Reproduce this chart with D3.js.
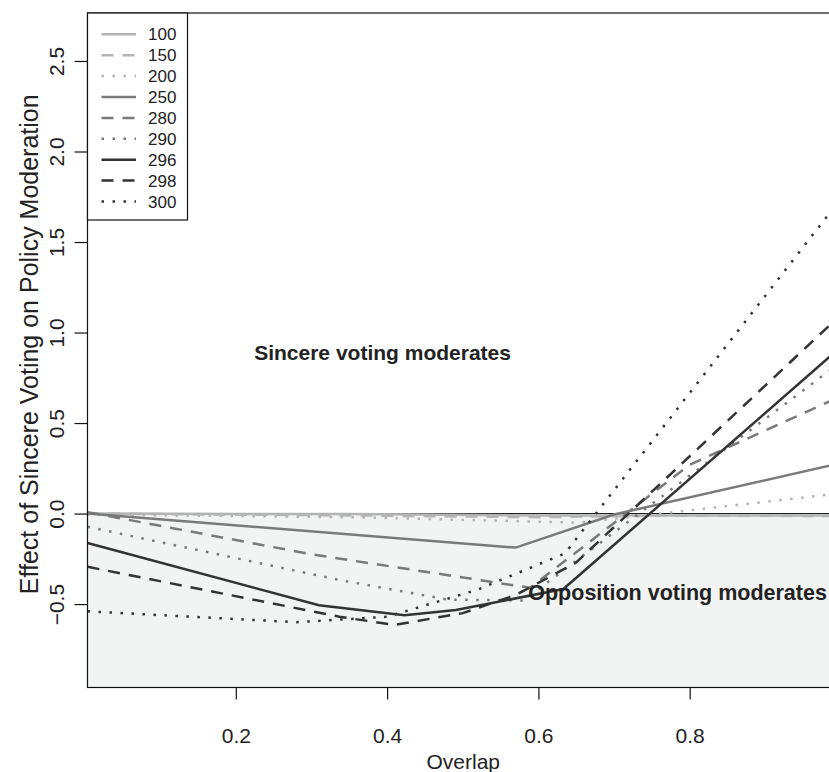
<html> <head>
<meta charset="utf-8">
<script src="https://d3js.org/d3.v7.min.js"></script>
<style>
  body { margin: 0; background: #fff; }
  text { font-family: "Liberation Sans", Arial, Helvetica, sans-serif; fill: #222; }
</style>
</head>
<body>
  <div id="chart"></div>
<script>

// data: [overlap, effect] per series
const line100 = [[0.004, 0.0], [0.35, -0.003], [0.60, -0.01], [0.985, -0.01]];
const line150 = [[0.004, 0.0], [0.35, -0.01], [0.60, -0.02], [0.75, -0.012], [0.985, -0.013]];
const line200 = [[0.004, -0.005], [0.35, -0.02], [0.655, -0.05], [0.985, 0.105]];
const line250 = [[0.004, 0.0], [0.57, -0.188], [0.70, -0.005], [0.985, 0.265]];
const line280 = [[0.004, 0.008], [0.30, -0.225], [0.589, -0.41], [0.80, 0.27], [0.985, 0.62]];
const line290 = [[0.004, -0.073], [0.337, -0.367], [0.48, -0.475], [0.58, -0.48], [0.985, 0.79]];
const line296 = [[0.004, -0.163], [0.31, -0.506], [0.423, -0.561], [0.491, -0.533], [0.633, -0.417], [0.985, 0.866]];
const line298 = [[0.004, -0.294], [0.337, -0.57], [0.41, -0.615], [0.50, -0.55], [0.57, -0.45], [0.65, -0.27], [0.985, 1.04]];
const line300 = [[0.004, -0.54], [0.28, -0.60], [0.40, -0.57], [0.52, -0.42], [0.635, -0.22], [0.985, 1.66]];

const seriesNames = ['100', '150', '200', '250', '280', '290', '296', '298', '300'];
const seriesData = [line100, line150, line200, line250, line280, line290, line296, line298, line300];

const xTicks = [0.2, 0.4, 0.6, 0.8];
const yTicks = [-0.5, 0.0, 0.5, 1.0, 1.5, 2.0, 2.5];

// constants
const canvas = [829, 772];
const plot = {left: 87.5, top: 13, right: 845, bottom: 687.5};
const greys = ['#b4b4b4', '#7a7a7a', '#333333'];
const dashes = [null, '12,9', '2.5,8.5'];

const styleOf = i => ({color: greys[Math.floor(i / 3)], dash: dashes[i % 3]});

const svg = d3.select('#chart').append('svg')
  .attr('width', canvas[0])
  .attr('height', canvas[1]);

const scX = d3.scaleLinear().domain([0, 1]).range([84.5, 841]);
const scY = d3.scaleLinear().domain([-0.958, 2.765]).range([687, 13]);

// clip for the plot region
svg.append('clipPath').attr('id', 'clip').append('rect')
  .attr('x', plot.left).attr('y', plot.top)
  .attr('width', plot.right - plot.left).attr('height', plot.bottom - plot.top);

// shaded "opposition" region below zero
svg.append('rect')
  .attr('x', plot.left)
  .attr('y', scY(0))
  .attr('width', plot.right - plot.left)
  .attr('height', plot.bottom - scY(0))
  .style('fill', '#f2f3f3');
svg.append('line')
  .attr('x1', plot.left).attr('x2', plot.right)
  .attr('y1', scY(0)).attr('y2', scY(0))
  .style('stroke', '#111').style('stroke-width', 1);

// series
const line = d3.line().x(d => scX(d[0])).y(d => scY(d[1]));
const gLines = svg.append('g').attr('clip-path', 'url(#clip)');
seriesData.forEach((data, i) => {
  const st = styleOf(i);
  gLines.append('path')
    .attr('d', line(data))
    .style('fill', 'none')
    .style('stroke', st.color)
    .style('stroke-width', 2.5)
    .style('stroke-dasharray', st.dash);
});

// annotations
svg.append('text')
  .attr('x', scX(0.394)).attr('y', scY(0.848))
  .attr('text-anchor', 'middle')
  .style('font-size', '21px').style('font-weight', 'bold')
  .text('Sincere voting moderates');
svg.append('text')
  .attr('x', scX(0.784)).attr('y', scY(-0.475))
  .attr('text-anchor', 'middle')
  .style('font-size', '21.5px').style('font-weight', 'bold')
  .text('Opposition voting moderates');

// plot box
svg.append('rect')
  .attr('x', plot.left).attr('y', plot.top)
  .attr('width', plot.right - plot.left).attr('height', plot.bottom - plot.top)
  .style('fill', 'none').style('stroke', '#111').style('stroke-width', 1.2);

// axes
const fmt = d => d3.format('.1f')(d).replace('-', '\u2212');
const xAxis = svg.append('g')
  .attr('transform', `translate(0, ${plot.bottom})`)
  .call(d3.axisBottom(scX).tickValues(xTicks).tickFormat(fmt).tickSize(12).tickPadding(28));
const yAxis = svg.append('g')
  .attr('transform', `translate(${plot.left}, 0)`)
  .call(d3.axisLeft(scY).tickValues(yTicks).tickFormat(fmt).tickSize(13));
[xAxis, yAxis].forEach(g => {
  g.select('.domain').remove();
  g.selectAll('.tick line').style('stroke', '#111').style('stroke-width', 1.2);
  g.selectAll('.tick text').style('font-size', '21px').style('fill', '#222')
    .style('font-family', '"Liberation Sans", Arial, sans-serif');
});
xAxis.selectAll('.tick text').attr('dy', null).attr('y', 55);
yAxis.selectAll('.tick text')
  .attr('x', null).attr('dy', null)
  .attr('text-anchor', 'middle')
  .attr('transform', 'translate(-23.5, 0) rotate(-90)');

// axis titles
svg.append('text')
  .attr('x', (plot.left + 841) / 2 - 1).attr('y', 769)
  .attr('text-anchor', 'middle')
  .style('font-size', '21px')
  .text('Overlap');
svg.append('text')
  .attr('transform', `translate(38, ${(plot.top + plot.bottom) / 2 - 6}) rotate(-90)`)
  .attr('text-anchor', 'middle')
  .style('font-size', '25px')
  .text('Effect of Sincere Voting on Policy Moderation');

// legend
const legend = svg.append('g');
legend.append('rect')
  .attr('x', plot.left).attr('y', plot.top)
  .attr('width', 100).attr('height', 207)
  .style('fill', '#fff').style('stroke', '#111').style('stroke-width', 1.2);
seriesNames.forEach((name, i) => {
  const st = styleOf(i);
  const yy = 34.3 + 20.9 * i;
  legend.append('line')
    .attr('x1', 101.5).attr('x2', 136)
    .attr('y1', yy).attr('y2', yy)
    .style('stroke', st.color)
    .style('stroke-width', 2.5)
    .style('stroke-dasharray', st.dash);
  legend.append('text')
    .attr('x', 148).attr('y', yy).attr('dy', '0.36em')
    .style('font-size', '17px')
    .text(name);
});

</script> </body></html>
